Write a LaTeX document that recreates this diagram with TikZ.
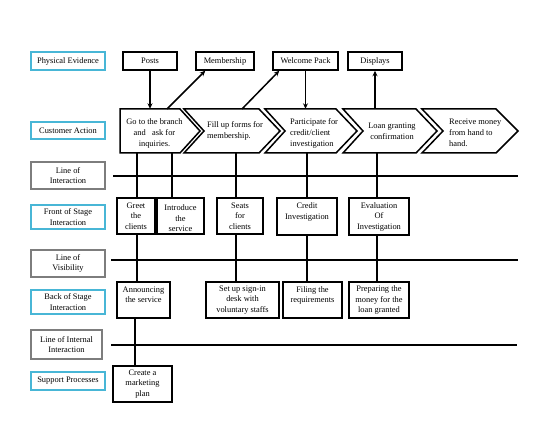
\documentclass[tikz,border=0pt]{standalone}
\usepackage{fontspec}
\setmainfont{Liberation Serif}
\usetikzlibrary{arrows.meta}
\definecolor{cyanB}{RGB}{72,182,214}
\definecolor{grayB}{RGB}{125,125,125}
\tikzset{
  txt/.style={font=\fontsize{8.4}{10.5}\selectfont, align=center, inner sep=0pt},
  cbox/.style={txt, draw=cyanB, line width=1.5pt, minimum width=74pt},
  gbox/.style={txt, draw=grayB, line width=1.4pt, minimum width=74pt},
  bbox/.style={txt, draw=black, line width=1.5pt},
  chev/.style={draw=black, line width=1.5pt, line join=miter},
  ln/.style={draw=black, line width=1.5pt},
  arr/.style={ln, -{Stealth[length=5.5pt,width=5pt]}},
  chtxt/.style={font=\fontsize{8.4}{11}\selectfont, inner sep=0pt}
}
\begin{document}
\begin{tikzpicture}[x=1pt,y=-1pt]
\useasboundingbox (0,0) rectangle (560,433);

% left labels
\node[cbox, minimum height=18pt] (pe) at (68,61) {Physical Evidence};
\node[cbox, minimum height=17pt] (ca) at (68,130.5) {Customer Action};
\node[gbox, minimum height=27pt] (loi) at (68,175.5) {Line of\\Interaction};
\node[cbox, minimum height=24pt] (fs) at (68,217) {Front of Stage\\Interaction};
\node[gbox, minimum height=27pt] (lov) at (68,263.5) {Line of\\Visibility};
\node[cbox, minimum height=24pt] (bs) at (68,302) {Back of Stage\\Interaction};
\node[gbox, minimum height=29pt, minimum width=71pt] (lii) at (66.5,344.5) {Line of Internal\\Interaction};
\node[cbox, minimum height=18pt] (sp) at (68,381) {Support Processes};

% physical evidence
\node[bbox, minimum width=54pt, minimum height=18pt] (posts) at (150,61) {Posts};
\node[bbox, minimum width=58pt, minimum height=18pt] (memb) at (225,61) {Membership};
\node[bbox, minimum width=65pt, minimum height=18pt] (wp) at (305.5,61) {Welcome Pack};
\node[bbox, minimum width=54pt, minimum height=18pt] (disp) at (375,61) {Displays};

% chevrons (outline)
\draw[chev] (120,109) -- (180,109) -- (200,131) -- (180,153) -- (120,153) -- cycle;
\draw[chev] (184,109) -- (259,109) -- (280,131) -- (259,153) -- (184,153) -- (204,131) -- cycle;
\draw[chev] (265,109) -- (336,109) -- (357,131) -- (336,153) -- (265,153) -- (285,131) -- cycle;
\draw[chev] (343,109) -- (416,109) -- (437,131) -- (416,153) -- (343,153) -- (363,131) -- cycle;
\draw[chev] (422,109) -- (496,109) -- (518,131) -- (496,153) -- (422,153) -- (443,131) -- cycle;
% chevron frames (named)
\node[minimum width=80pt, minimum height=44pt, inner sep=0pt] (ch1) at (160,131) {};
\node[minimum width=96pt, minimum height=44pt, inner sep=0pt] (ch2) at (232,131) {};
\node[minimum width=92pt, minimum height=44pt, inner sep=0pt] (ch3) at (311,131) {};
\node[minimum width=94pt, minimum height=44pt, inner sep=0pt] (ch4) at (390,131) {};
\node[minimum width=96pt, minimum height=44pt, inner sep=0pt] (ch5) at (470,131) {};
% chevron texts
\node[chtxt, align=center] (t1) at (154.5,133) {Go to the branch\\and\ \ \ ask for\\inquiries.};
\node[chtxt, align=left, anchor=west] (t2) at (207,131) {Fill up forms for\\membership.};
\node[chtxt, align=left, anchor=west] (t3) at (290,133) {Participate for\\credit/client\\investigation};
\node[chtxt, align=center] (t4) at (392,131) {Loan granting\\confirmation};
\node[chtxt, align=left, anchor=west] (t5) at (449,133) {Receive money\\from hand to\\hand.};

% front of stage
\node[bbox, minimum width=38pt, minimum height=36pt] (greet) at (136,216) {Greet\\the\\clients};
\node[bbox, minimum width=47pt, minimum height=36pt] (intro) at (180.5,216) {};
\node[txt] (introt) at (180.5,218.5) {Introduce\\the\\service};
\node[bbox, minimum width=46pt, minimum height=36pt] (seats) at (240,216) {Seats\\for\\clients};
\node[bbox, minimum width=60pt, minimum height=37pt] (credit) at (307,216.5) {Credit\\Investigation\\\mbox{}};
\node[bbox, minimum width=60pt, minimum height=37pt] (eval) at (379,216.5) {Evaluation\\Of\\Investigation};

% back of stage
\node[bbox, minimum width=53pt, minimum height=36pt] (ann) at (143.5,300) {Announcing\\the service\\\mbox{}};
\node[bbox, minimum width=73pt, minimum height=36pt] (setup) at (242.5,300) {Set up sign-in\\desk with\\voluntary staffs};
\node[bbox, minimum width=59pt, minimum height=36pt] (filing) at (312.5,300) {Filing the\\requirements\\\mbox{}};
\node[bbox, minimum width=60pt, minimum height=36pt] (prep) at (379,300) {Preparing the\\money for the\\loan granted};
\node[bbox, minimum width=59pt, minimum height=36pt] (create) at (142.5,384) {Create a\\marketing\\plan};

% horizontal lines
\coordinate (l1s) at (113,176); \coordinate (l1e) at (518,176);
\coordinate (l2s) at (111,260); \coordinate (l2e) at (518,260);
\coordinate (l3s) at (111,345); \coordinate (l3e) at (517,345);
\draw[ln] (l1s) -- (l1e);
\draw[ln] (l2s) -- (l2e);
\draw[ln] (l3s) -- (l3e);

% evidence arrows
\coordinate (m0) at (167,109);
\coordinate (w0) at (242,109);
\draw[arr] (posts.south) -- (posts.south |- ch1.north);
\draw[arr] (m0) -- ([xshift=10pt]memb.south west);
\draw[arr] (w0) -- ([xshift=7pt]wp.south west);
\draw[arr] (wp.south) -- (wp.south |- ch3.north);
\draw[arr] (disp.south |- ch4.north) -- (disp.south);

% vertical connectors
\coordinate (xa) at (137,0);
\coordinate (xb) at (172,0);
\coordinate (xc) at (236,0);
\coordinate (xd) at (307,0);
\coordinate (xe) at (377,0);
\coordinate (xf) at (135,0);
\draw[ln] (ch1.south -| xa) -- (greet.north -| xa);
\draw[ln] (ch1.south -| xb) -- (intro.north -| xb);
\draw[ln] (ch2.south -| xc) -- (seats.north -| xc);
\draw[ln] (ch3.south -| xd) -- (credit.north -| xd);
\draw[ln] (ch4.south -| xe) -- (eval.north -| xe);
\draw[ln] (greet.south -| xa) -- (ann.north -| xa);
\draw[ln] (seats.south -| xc) -- (setup.north -| xc);
\draw[ln] (credit.south -| xd) -- (filing.north -| xd);
\draw[ln] (eval.south -| xe) -- (prep.north -| xe);
\draw[ln] (ann.south -| xf) -- (create.north -| xf);
\end{tikzpicture}
\end{document}
